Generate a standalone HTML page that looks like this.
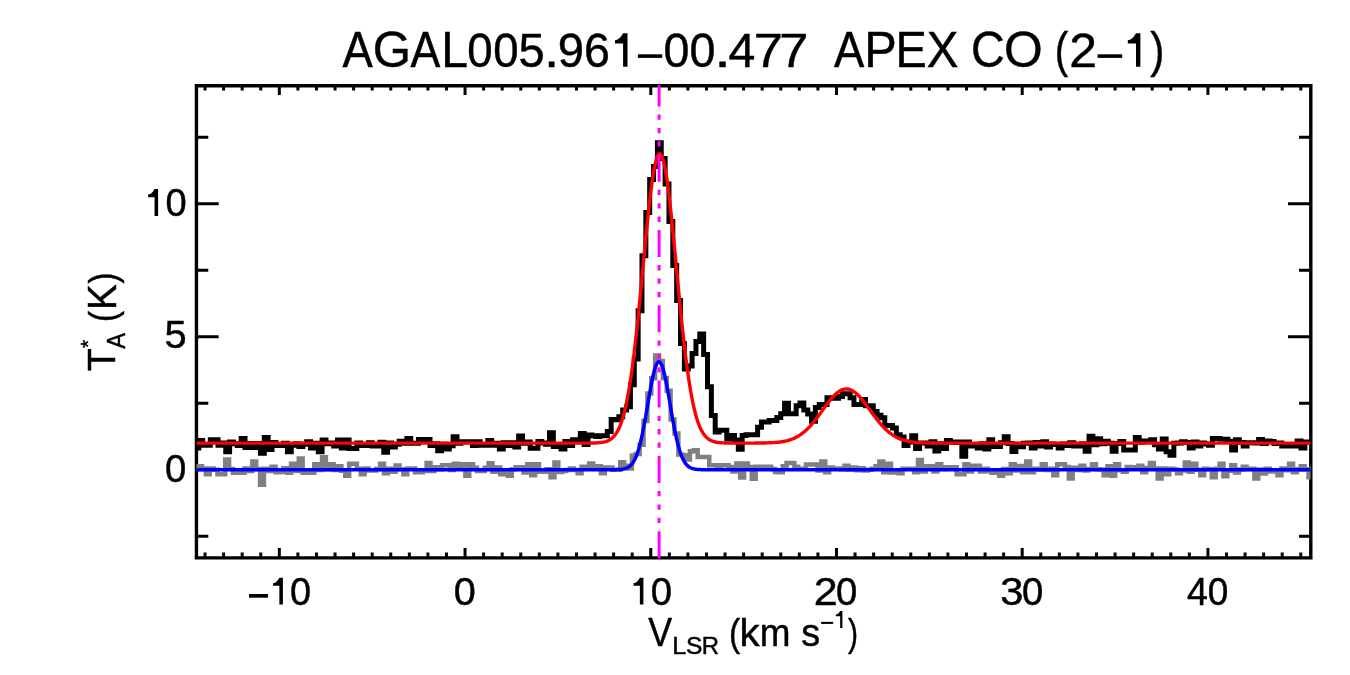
<!DOCTYPE html>
<html><head><meta charset="utf-8"><style>
html,body{margin:0;padding:0;background:#fff;width:1350px;height:675px;overflow:hidden}
svg{display:block}
text{font-family:"Liberation Sans",sans-serif;fill:#000;stroke:#000;stroke-width:0.45px}
svg{will-change:transform}
</style></head><body>
<svg width="1350" height="675" viewBox="0 0 1350 675">
<rect width="1350" height="675" fill="#fff"/>
<path d="M205.04 557.5V552.5M205.04 85.5V90.5M223.62 557.5V552.5M223.62 85.5V90.5M242.19 557.5V552.5M242.19 85.5V90.5M260.76 557.5V552.5M260.76 85.5V90.5M279.33 557.5V548.0M279.33 85.5V95.0M297.90 557.5V552.5M297.90 85.5V90.5M316.48 557.5V552.5M316.48 85.5V90.5M335.05 557.5V552.5M335.05 85.5V90.5M353.62 557.5V552.5M353.62 85.5V90.5M372.19 557.5V552.5M372.19 85.5V90.5M390.76 557.5V552.5M390.76 85.5V90.5M409.34 557.5V552.5M409.34 85.5V90.5M427.91 557.5V552.5M427.91 85.5V90.5M446.48 557.5V552.5M446.48 85.5V90.5M465.05 557.5V548.0M465.05 85.5V95.0M483.62 557.5V552.5M483.62 85.5V90.5M502.20 557.5V552.5M502.20 85.5V90.5M520.77 557.5V552.5M520.77 85.5V90.5M539.34 557.5V552.5M539.34 85.5V90.5M557.91 557.5V552.5M557.91 85.5V90.5M576.48 557.5V552.5M576.48 85.5V90.5M595.06 557.5V552.5M595.06 85.5V90.5M613.63 557.5V552.5M613.63 85.5V90.5M632.20 557.5V552.5M632.20 85.5V90.5M650.77 557.5V548.0M650.77 85.5V95.0M669.34 557.5V552.5M669.34 85.5V90.5M687.92 557.5V552.5M687.92 85.5V90.5M706.49 557.5V552.5M706.49 85.5V90.5M725.06 557.5V552.5M725.06 85.5V90.5M743.63 557.5V552.5M743.63 85.5V90.5M762.20 557.5V552.5M762.20 85.5V90.5M780.78 557.5V552.5M780.78 85.5V90.5M799.35 557.5V552.5M799.35 85.5V90.5M817.92 557.5V552.5M817.92 85.5V90.5M836.49 557.5V548.0M836.49 85.5V95.0M855.06 557.5V552.5M855.06 85.5V90.5M873.64 557.5V552.5M873.64 85.5V90.5M892.21 557.5V552.5M892.21 85.5V90.5M910.78 557.5V552.5M910.78 85.5V90.5M929.35 557.5V552.5M929.35 85.5V90.5M947.92 557.5V552.5M947.92 85.5V90.5M966.50 557.5V552.5M966.50 85.5V90.5M985.07 557.5V552.5M985.07 85.5V90.5M1003.64 557.5V552.5M1003.64 85.5V90.5M1022.21 557.5V548.0M1022.21 85.5V95.0M1040.78 557.5V552.5M1040.78 85.5V90.5M1059.36 557.5V552.5M1059.36 85.5V90.5M1077.93 557.5V552.5M1077.93 85.5V90.5M1096.50 557.5V552.5M1096.50 85.5V90.5M1115.07 557.5V552.5M1115.07 85.5V90.5M1133.64 557.5V552.5M1133.64 85.5V90.5M1152.22 557.5V552.5M1152.22 85.5V90.5M1170.79 557.5V552.5M1170.79 85.5V90.5M1189.36 557.5V552.5M1189.36 85.5V90.5M1207.93 557.5V548.0M1207.93 85.5V95.0M1226.50 557.5V552.5M1226.50 85.5V90.5M1245.08 557.5V552.5M1245.08 85.5V90.5M1263.65 557.5V552.5M1263.65 85.5V90.5M1282.22 557.5V552.5M1282.22 85.5V90.5M1300.79 557.5V552.5M1300.79 85.5V90.5M196.5 536.17H208.3M1310.5 536.17H1299.0M196.5 469.70H218.7M1310.5 469.70H1288.0M196.5 403.23H208.3M1310.5 403.23H1299.0M196.5 336.75H218.7M1310.5 336.75H1288.0M196.5 270.27H208.3M1310.5 270.27H1299.0M196.5 203.80H218.7M1310.5 203.80H1288.0M196.5 137.32H208.3M1310.5 137.32H1299.0" stroke="#000" stroke-width="3" fill="none"/>
<path d="M194.7 85.7H1312.55M194.7 557.85H1312.55M196.45 84V559.6M1310.8 84V559.6" stroke="#000" stroke-width="3.4" fill="none"/>
<defs><clipPath id="c"><rect x="196.5" y="85.5" width="1114" height="472"/></clipPath></defs>
<g clip-path="url(#c)" fill="none" stroke-linejoin="miter" stroke-linecap="butt">
<path d="M170.98 469.65 174.85 469.65 174.85 467.53 178.72 467.53 178.72 467.75 182.60 467.75 182.60 470.51 186.47 470.51 186.47 470.18 190.34 470.18 190.34 470.54 194.22 470.54 194.22 468.79 198.09 468.79 198.09 466.25 201.96 466.25 201.96 468.51 205.84 468.51 205.84 474.27 209.71 474.27 209.71 468.46 213.58 468.46 213.58 469.85 217.46 469.85 217.46 474.27 221.33 474.27 221.33 474.27 225.20 474.27 225.20 459.51 229.08 459.51 229.08 468.96 232.95 468.96 232.95 472.82 236.82 472.82 236.82 472.82 240.70 472.82 240.70 472.82 244.57 472.82 244.57 468.61 248.44 468.61 248.44 471.09 252.32 471.09 252.32 461.44 256.19 461.44 256.19 469.07 260.06 469.07 260.06 484.86 263.94 484.86 263.94 468.66 267.81 468.66 267.81 471.00 271.68 471.00 271.68 466.73 275.56 466.73 275.56 472.34 279.43 472.34 279.43 472.08 283.30 472.08 283.30 468.18 287.18 468.18 287.18 472.82 291.05 472.82 291.05 463.84 294.92 463.84 294.92 470.89 298.80 470.89 298.80 458.55 302.67 458.55 302.67 472.82 306.54 472.82 306.54 472.82 310.42 472.82 310.42 472.82 314.29 472.82 314.29 464.32 318.16 464.32 318.16 470.03 322.04 470.03 322.04 457.34 325.91 457.34 325.91 469.15 329.78 469.15 329.78 464.32 333.66 464.32 333.66 469.94 337.53 469.94 337.53 466.25 341.40 466.25 341.40 470.76 345.28 470.76 345.28 475.71 349.15 475.71 349.15 463.84 353.02 463.84 353.02 463.84 356.90 463.84 356.90 468.86 360.77 468.86 360.77 474.27 364.64 474.27 364.64 468.46 368.52 468.46 368.52 470.42 372.39 470.42 372.39 470.42 376.26 470.42 376.26 469.06 380.14 469.06 380.14 463.65 384.01 463.65 384.01 473.31 387.88 473.31 387.88 468.72 391.76 468.72 391.76 471.86 395.63 471.86 395.63 465.58 399.50 465.58 399.50 469.15 403.38 469.15 403.38 474.27 407.25 474.27 407.25 468.45 411.12 468.45 411.12 468.46 415.00 468.46 415.00 472.34 418.87 472.34 418.87 472.34 422.74 472.34 422.74 471.10 426.62 471.10 426.62 463.07 430.49 463.07 430.49 470.90 434.36 470.90 434.36 467.21 438.24 467.21 438.24 469.30 442.11 469.30 442.11 465.29 445.98 465.29 445.98 465.29 449.86 465.29 449.86 469.98 453.73 469.98 453.73 463.65 457.60 463.65 457.60 467.69 461.48 467.69 461.48 464.32 465.35 464.32 465.35 475.71 469.22 475.71 469.22 464.32 473.09 464.32 473.09 467.69 476.97 467.69 476.97 470.90 480.84 470.90 480.84 470.90 484.71 470.90 484.71 467.69 488.59 467.69 488.59 463.36 492.46 463.36 492.46 471.86 496.33 471.86 496.33 467.62 500.21 467.62 500.21 474.27 504.08 474.27 504.08 470.18 507.95 470.18 507.95 475.71 511.83 475.71 511.83 469.31 515.70 469.31 515.70 467.21 519.57 467.21 519.57 467.21 523.45 467.21 523.45 472.54 527.32 472.54 527.32 464.32 531.19 464.32 531.19 475.23 535.07 475.23 535.07 464.32 538.94 464.32 538.94 471.86 542.81 471.86 542.81 471.86 546.69 471.86 546.69 469.23 550.56 469.23 550.56 477.16 554.43 477.16 554.43 462.40 558.31 462.40 558.31 472.00 562.18 472.00 562.18 471.00 566.05 471.00 566.05 470.00 569.93 470.00 569.93 468.50 573.80 468.50 573.80 470.00 577.67 470.00 577.67 473.30 581.55 473.30 581.55 466.70 585.42 466.70 585.42 466.70 589.29 466.70 589.29 463.60 593.17 463.60 593.17 466.30 597.04 466.30 597.04 466.30 600.91 466.30 600.91 473.30 604.79 473.30 604.79 467.60 608.66 467.60 608.66 467.60 612.53 467.60 612.53 469.80 616.41 469.80 616.41 469.80 620.28 469.80 620.28 462.30 624.15 462.30 624.15 465.80 628.03 465.80 628.03 468.50 631.90 468.50 631.90 455.60 635.77 455.60 635.77 453.90 639.65 453.90 639.65 444.70 643.52 444.70 643.52 421.10 647.39 421.10 647.39 393.50 651.27 393.50 651.27 378.30 655.14 378.30 655.14 355.60 659.01 355.60 659.01 361.00 662.87 361.00 662.87 378.30 666.74 378.30 666.74 390.70 670.60 390.70 670.60 419.40 674.47 419.40 674.47 433.60 678.34 433.60 678.34 454.60 682.20 454.60 682.20 455.20 686.07 455.20 686.07 459.50 689.93 459.50 689.93 451.35 693.80 451.35 693.80 450.25 697.67 450.25 697.67 457.00 701.53 457.00 701.53 457.00 705.40 457.00 705.40 457.00 709.26 457.00 709.26 465.30 713.13 465.30 713.13 465.30 717.00 465.30 717.00 467.00 720.86 467.00 720.86 465.30 724.73 465.30 724.73 465.30 728.59 465.30 728.59 467.00 732.46 467.00 732.46 471.60 736.33 471.60 736.33 463.60 740.19 463.60 740.19 477.40 744.06 477.40 744.06 463.60 747.92 463.60 747.92 467.00 751.79 467.00 751.79 478.70 755.66 478.70 755.66 466.70 759.52 466.70 759.52 466.70 763.39 466.70 763.39 466.70 767.25 466.70 767.25 466.70 771.12 466.70 771.12 469.00 774.99 469.00 774.99 472.00 778.85 472.00 778.85 472.22 782.72 472.22 782.72 466.30 786.58 466.30 786.58 462.95 790.45 462.95 790.45 462.95 794.32 462.95 794.32 466.81 798.18 466.81 798.18 468.81 802.05 468.81 802.05 468.84 805.91 468.84 805.91 464.59 809.78 464.59 809.78 464.59 813.65 464.59 813.65 464.59 817.51 464.59 817.51 470.49 821.38 470.49 821.38 461.51 825.24 461.51 825.24 472.22 829.11 472.22 829.11 467.48 832.98 467.48 832.98 468.71 836.84 468.71 836.84 468.44 840.71 468.44 840.71 469.21 844.57 469.21 844.57 465.84 848.44 465.84 848.44 469.55 852.31 469.55 852.31 467.48 856.17 467.48 856.17 470.30 860.04 470.30 860.04 468.25 863.90 468.25 863.90 470.49 867.77 470.49 867.77 469.68 871.64 469.68 871.64 468.77 875.50 468.77 875.50 466.13 879.37 466.13 879.37 461.51 883.23 461.51 883.23 472.22 887.10 472.22 887.10 463.63 890.97 463.63 890.97 472.42 894.83 472.42 894.83 470.60 898.70 470.60 898.70 473.31 902.56 473.31 902.56 468.66 906.43 468.66 906.43 468.66 910.30 468.66 910.30 468.66 914.16 468.66 914.16 472.34 918.03 472.34 918.03 459.99 921.89 459.99 921.89 471.56 925.76 471.56 925.76 466.25 929.63 466.25 929.63 466.25 933.49 466.25 933.49 471.38 937.36 471.38 937.36 464.32 941.22 464.32 941.22 468.94 945.09 468.94 945.09 467.21 948.96 467.21 948.96 467.21 952.82 467.21 952.82 467.21 956.69 467.21 956.69 474.27 960.55 474.27 960.55 474.27 964.42 474.27 964.42 464.32 968.29 464.32 968.29 471.38 972.15 471.38 972.15 465.77 976.02 465.77 976.02 465.77 979.88 465.77 979.88 471.38 983.75 471.38 983.75 468.85 987.62 468.85 987.62 471.20 991.48 471.20 991.48 472.82 995.35 472.82 995.35 470.51 999.21 470.51 999.21 475.71 1003.08 475.71 1003.08 469.12 1006.95 469.12 1006.95 473.31 1010.81 473.31 1010.81 464.32 1014.68 464.32 1014.68 470.52 1018.54 470.52 1018.54 466.01 1022.41 466.01 1022.41 472.34 1026.28 472.34 1026.28 461.44 1030.14 461.44 1030.14 472.34 1034.01 472.34 1034.01 468.66 1037.87 468.66 1037.87 469.39 1041.74 469.39 1041.74 464.32 1045.61 464.32 1045.61 469.94 1049.47 469.94 1049.47 468.66 1053.34 468.66 1053.34 475.23 1057.20 475.23 1057.20 464.32 1061.07 464.32 1061.07 464.32 1064.94 464.32 1064.94 467.04 1068.80 467.04 1068.80 478.60 1072.67 478.60 1072.67 467.69 1076.53 467.69 1076.53 470.12 1080.40 470.12 1080.40 465.77 1084.27 465.77 1084.27 470.42 1088.13 470.42 1088.13 468.99 1092.00 468.99 1092.00 464.32 1095.86 464.32 1095.86 469.22 1099.73 469.22 1099.73 469.62 1103.60 469.62 1103.60 475.23 1107.46 475.23 1107.46 466.25 1111.33 466.25 1111.33 475.71 1115.19 475.71 1115.19 464.32 1119.06 464.32 1119.06 470.26 1122.93 470.26 1122.93 471.86 1126.79 471.86 1126.79 466.95 1130.66 466.95 1130.66 467.21 1134.52 467.21 1134.52 468.58 1138.39 468.58 1138.39 465.77 1142.26 465.77 1142.26 472.34 1146.12 472.34 1146.12 468.03 1149.99 468.03 1149.99 463.07 1153.85 463.07 1153.85 468.52 1157.72 468.52 1157.72 478.60 1161.59 478.60 1161.59 468.42 1165.45 468.42 1165.45 474.27 1169.32 474.27 1169.32 468.73 1173.18 468.73 1173.18 469.62 1177.05 469.62 1177.05 473.31 1180.92 473.31 1180.92 470.60 1184.78 470.60 1184.78 462.40 1188.65 462.40 1188.65 471.69 1192.51 471.69 1192.51 463.65 1196.38 463.65 1196.38 469.73 1200.25 469.73 1200.25 475.23 1204.11 475.23 1204.11 468.85 1207.98 468.85 1207.98 469.14 1211.84 469.14 1211.84 477.16 1215.71 477.16 1215.71 468.74 1219.58 468.74 1219.58 463.75 1223.44 463.75 1223.44 476.19 1227.31 476.19 1227.31 470.80 1231.17 470.80 1231.17 465.29 1235.04 465.29 1235.04 472.58 1238.91 472.58 1238.91 469.44 1242.77 469.44 1242.77 466.64 1246.64 466.64 1246.64 468.95 1250.50 468.95 1250.50 468.75 1254.37 468.75 1254.37 478.60 1258.24 478.60 1258.24 469.62 1262.10 469.62 1262.10 473.55 1265.97 473.55 1265.97 468.84 1269.83 468.84 1269.83 471.39 1273.70 471.39 1273.70 470.83 1277.57 470.83 1277.57 475.23 1281.43 475.23 1281.43 468.46 1285.30 468.46 1285.30 470.15 1289.16 470.15 1289.16 463.65 1293.03 463.65 1293.03 472.34 1296.90 472.34 1296.90 469.26 1300.76 469.26 1300.76 466.25 1304.63 466.25 1304.63 469.26 1308.49 469.26 1308.49 477.16 1312.36 477.16 1312.36 467.58 1316.23 467.58 1316.23 470.52 1320.09 470.52 1320.09 472.22 1323.96 472.22 1323.96 470.06 1327.82 470.06 1327.82 470.29 1331.69 470.29 1331.69 469.46 1335.56 469.46 1335.56 471.53 1339.42 471.53" stroke="#808080" stroke-width="4.5"/>
<path d="M175.65 443.11 179.50 443.11 179.50 442.71 183.36 442.71 183.36 443.47 187.21 443.47 187.21 444.29 191.07 444.29 191.07 443.71 194.92 443.71 194.92 448.02 198.77 448.02 198.77 440.50 202.63 440.50 202.63 445.13 206.48 445.13 206.48 445.13 210.34 445.13 210.34 439.83 214.19 439.83 214.19 439.83 218.04 439.83 218.04 445.13 221.90 445.13 221.90 442.97 225.75 442.97 225.75 451.87 229.61 451.87 229.61 441.94 233.46 441.94 233.46 443.78 237.31 443.78 237.31 445.61 241.17 445.61 241.17 438.57 245.02 438.57 245.02 447.54 248.88 447.54 248.88 443.39 252.73 443.39 252.73 447.54 256.58 447.54 256.58 443.42 260.44 443.42 260.44 453.31 264.29 453.31 264.29 437.61 268.15 437.61 268.15 449.46 272.00 449.46 272.00 442.43 275.85 442.43 275.85 445.61 279.71 445.61 279.71 445.61 283.56 445.61 283.56 443.17 287.42 443.17 287.42 451.87 291.27 451.87 291.27 445.14 295.12 445.14 295.12 443.87 298.98 443.87 298.98 446.57 302.83 446.57 302.83 444.19 306.69 444.19 306.69 441.70 310.54 441.70 310.54 448.02 314.39 448.02 314.39 443.15 318.25 443.15 318.25 451.87 322.10 451.87 322.10 439.92 325.96 439.92 325.96 443.69 329.81 443.69 329.81 442.91 333.66 442.91 333.66 446.09 337.52 446.09 337.52 440.02 341.37 440.02 341.37 448.02 345.23 448.02 345.23 440.02 349.08 440.02 349.08 448.50 352.93 448.50 352.93 448.50 356.79 448.50 356.79 442.95 360.64 442.95 360.64 445.61 364.50 445.61 364.50 445.61 368.35 445.61 368.35 442.71 372.20 442.71 372.20 446.09 376.06 446.09 376.06 446.09 379.91 446.09 379.91 442.34 383.77 442.34 383.77 452.35 387.62 452.35 387.62 442.91 391.47 442.91 391.47 447.06 395.33 447.06 395.33 444.35 399.18 444.35 399.18 441.20 403.04 441.20 403.04 443.20 406.89 443.20 406.89 438.57 410.74 438.57 410.74 443.20 414.60 443.20 414.60 443.20 418.45 443.20 418.45 439.54 422.31 439.54 422.31 439.54 426.16 439.54 426.16 439.54 430.01 439.54 430.01 445.61 433.87 445.61 433.87 443.87 437.72 443.87 437.72 450.67 441.58 450.67 441.58 444.17 445.43 444.17 445.43 448.98 449.28 448.98 449.28 445.76 453.14 445.76 453.14 436.65 456.99 436.65 456.99 443.24 460.85 443.24 460.85 441.75 464.70 441.75 464.70 441.75 468.55 441.75 468.55 441.75 472.41 441.75 472.41 445.42 476.26 445.42 476.26 441.75 480.12 441.75 480.12 445.13 483.97 445.13 483.97 445.13 487.82 445.13 487.82 440.50 491.68 440.50 491.68 445.13 495.53 445.13 495.53 443.27 499.39 443.27 499.39 448.98 503.24 448.98 503.24 442.71 507.09 442.71 507.09 445.61 510.95 445.61 510.95 442.71 514.80 442.71 514.80 447.06 518.66 447.06 518.66 435.97 522.51 435.97 522.51 443.14 526.36 443.14 526.36 441.94 530.22 441.94 530.22 448.31 534.07 448.31 534.07 448.31 537.93 448.31 537.93 441.60 541.78 441.60 541.78 443.00 545.63 443.00 545.63 444.20 549.49 444.20 549.49 432.70 553.34 432.70 553.34 446.40 557.20 446.40 557.20 445.00 561.05 445.00 561.05 448.90 564.90 448.90 564.90 441.60 568.76 441.60 568.76 445.50 572.61 445.50 572.61 439.80 576.47 439.80 576.47 440.00 580.32 440.00 580.32 433.60 584.17 433.60 584.17 444.50 588.03 444.50 588.03 434.90 591.88 434.90 591.88 435.80 595.74 435.80 595.74 436.50 599.59 436.50 599.59 435.80 603.44 435.80 603.44 435.80 607.30 435.80 607.30 431.40 611.15 431.40 611.15 419.40 615.01 419.40 615.01 419.80 618.86 419.80 618.86 416.70 622.71 416.70 622.71 410.10 626.57 410.10 626.57 406.80 630.42 406.80 630.42 384.70 634.28 384.70 634.28 359.10 638.13 359.10 638.13 310.80 641.98 310.80 641.98 255.80 645.84 255.80 645.84 212.50 649.69 212.50 649.69 179.40 653.55 179.40 653.55 166.50 657.40 166.50 657.40 142.70 661.25 142.70 661.25 158.50 665.11 158.50 665.11 183.90 668.96 183.90 668.96 221.60 672.82 221.60 672.82 265.50 676.67 265.50 676.67 300.50 680.52 300.50 680.52 343.40 684.38 343.40 684.38 369.10 688.23 369.10 688.23 366.00 692.09 366.00 692.09 353.50 695.94 353.50 695.94 341.40 699.79 341.40 699.79 334.10 703.65 334.10 703.65 354.50 707.50 354.50 707.50 386.70 711.36 386.70 711.36 415.60 715.21 415.60 715.21 431.90 719.06 431.90 719.06 430.30 722.92 430.30 722.92 430.30 726.77 430.30 726.77 439.10 730.63 439.10 730.63 435.60 734.48 435.60 734.48 440.00 738.33 440.00 738.33 449.30 742.19 449.30 742.19 435.60 746.04 435.60 746.04 434.70 749.90 434.70 749.90 434.70 753.75 434.70 753.75 434.70 757.60 434.70 757.60 427.20 761.46 427.20 761.46 422.00 765.31 422.00 765.31 422.00 769.17 422.00 769.17 420.50 773.02 420.50 773.02 420.50 776.87 420.50 776.87 417.60 780.73 417.60 780.73 413.80 784.58 413.80 784.58 403.20 788.44 403.20 788.44 413.70 792.29 413.70 792.29 413.70 796.14 413.70 796.14 405.80 800.00 405.80 800.00 403.00 803.85 403.00 803.85 410.00 807.71 410.00 807.71 414.00 811.56 414.00 811.56 421.30 815.41 421.30 815.41 407.60 819.27 407.60 819.27 404.50 823.12 404.50 823.12 404.50 826.98 404.50 826.98 397.80 830.83 397.80 830.83 398.20 834.68 398.20 834.68 398.20 838.54 398.20 838.54 396.40 842.39 396.40 842.39 393.70 846.25 393.70 846.25 393.70 850.10 393.70 850.10 397.70 853.95 397.70 853.95 404.40 857.81 404.40 857.81 404.40 861.66 404.40 861.66 399.60 865.52 399.60 865.52 405.80 869.37 405.80 869.37 405.80 873.22 405.80 873.22 411.60 877.08 411.60 877.08 415.20 880.93 415.20 880.93 417.80 884.79 417.80 884.79 425.40 888.64 425.40 888.64 425.40 892.49 425.40 892.49 428.10 896.35 428.10 896.35 434.67 900.20 434.67 900.20 437.00 904.06 437.00 904.06 445.61 907.91 445.61 907.91 442.05 911.76 442.05 911.76 435.69 915.62 435.69 915.62 448.50 919.47 448.50 919.47 442.91 923.33 442.91 923.33 442.91 927.18 442.91 927.18 446.09 931.03 446.09 931.03 441.76 934.89 441.76 934.89 450.91 938.74 450.91 938.74 443.63 942.60 443.63 942.60 448.50 946.45 448.50 946.45 440.50 950.30 440.50 950.30 441.95 954.16 441.95 954.16 442.44 958.01 442.44 958.01 441.94 961.87 441.94 961.87 456.20 965.72 456.20 965.72 441.94 969.57 441.94 969.57 446.09 973.43 446.09 973.43 445.35 977.28 445.35 977.28 448.02 981.14 448.02 981.14 443.87 984.99 443.87 984.99 448.98 988.84 448.98 988.84 439.83 992.70 439.83 992.70 446.57 996.55 446.57 996.55 446.57 1000.41 446.57 1000.41 442.77 1004.26 442.77 1004.26 436.65 1008.11 436.65 1008.11 443.44 1011.97 443.44 1011.97 451.39 1015.82 451.39 1015.82 444.25 1019.68 444.25 1019.68 446.81 1023.53 446.81 1023.53 443.33 1027.38 443.33 1027.38 442.91 1031.24 442.91 1031.24 448.02 1035.09 448.02 1035.09 442.44 1038.95 442.44 1038.95 446.09 1042.80 446.09 1042.80 441.75 1046.65 441.75 1046.65 447.06 1050.51 447.06 1050.51 443.98 1054.36 443.98 1054.36 444.44 1058.22 444.44 1058.22 448.02 1062.07 448.02 1062.07 444.06 1065.92 444.06 1065.92 445.61 1069.78 445.61 1069.78 442.71 1073.63 442.71 1073.63 446.09 1077.49 446.09 1077.49 446.09 1081.34 446.09 1081.34 443.87 1085.19 443.87 1085.19 451.20 1089.05 451.20 1089.05 436.17 1092.90 436.17 1092.90 444.65 1096.76 444.65 1096.76 438.86 1100.61 438.86 1100.61 443.72 1104.46 443.72 1104.46 441.13 1108.32 441.13 1108.32 443.22 1112.17 443.22 1112.17 451.20 1116.03 451.20 1116.03 443.50 1119.88 443.50 1119.88 441.57 1123.73 441.57 1123.73 449.94 1127.59 449.94 1127.59 449.94 1131.44 449.94 1131.44 449.94 1135.30 449.94 1135.30 437.61 1139.15 437.61 1139.15 442.24 1143.00 442.24 1143.00 440.98 1146.86 440.98 1146.86 441.34 1150.71 441.34 1150.71 439.83 1154.57 439.83 1154.57 444.67 1158.42 444.67 1158.42 448.98 1162.27 448.98 1162.27 439.06 1166.13 439.06 1166.13 451.87 1169.98 451.87 1169.98 455.24 1173.84 455.24 1173.84 443.18 1177.69 443.18 1177.69 443.06 1181.54 443.06 1181.54 441.75 1185.40 441.75 1185.40 442.38 1189.25 442.38 1189.25 448.02 1193.11 448.02 1193.11 441.94 1196.96 441.94 1196.96 446.09 1200.81 446.09 1200.81 442.91 1204.67 442.91 1204.67 444.02 1208.52 444.02 1208.52 445.13 1212.38 445.13 1212.38 438.57 1216.23 438.57 1216.23 438.57 1220.08 438.57 1220.08 439.25 1223.94 439.25 1223.94 439.25 1227.79 439.25 1227.79 441.17 1231.65 441.17 1231.65 450.09 1235.50 450.09 1235.50 439.68 1239.35 439.68 1239.35 442.61 1243.21 442.61 1243.21 446.02 1247.06 446.02 1247.06 442.78 1250.92 442.78 1250.92 442.71 1254.77 442.71 1254.77 443.00 1258.62 443.00 1258.62 439.39 1262.48 439.39 1262.48 443.47 1266.33 443.47 1266.33 440.98 1270.19 440.98 1270.19 441.53 1274.04 441.53 1274.04 443.39 1277.89 443.39 1277.89 443.12 1281.75 443.12 1281.75 446.09 1285.60 446.09 1285.60 446.09 1289.46 446.09 1289.46 446.09 1293.31 446.09 1293.31 446.09 1297.16 446.09 1297.16 441.02 1301.02 441.02 1301.02 448.02 1304.87 448.02 1304.87 441.94 1308.73 441.94 1308.73 442.22 1312.58 442.22 1312.58 442.96 1316.43 442.96 1316.43 442.82 1320.29 442.82 1320.29 443.45 1324.14 443.45 1324.14 443.38 1328.00 443.38 1328.00 443.04 1331.85 443.04 1331.85 441.10 1335.70 441.10 1335.70 442.37 1339.56 442.37" stroke="#000" stroke-width="5"/>
<path d="M196.5 443.11 197.5 443.11 198.5 443.11 199.5 443.11 200.5 443.11 201.5 443.11 202.5 443.11 203.5 443.11 204.5 443.11 205.5 443.11 206.5 443.11 207.5 443.11 208.5 443.11 209.5 443.11 210.5 443.11 211.5 443.11 212.5 443.11 213.5 443.11 214.5 443.11 215.5 443.11 216.5 443.11 217.5 443.11 218.5 443.11 219.5 443.11 220.5 443.11 221.5 443.11 222.5 443.11 223.5 443.11 224.5 443.11 225.5 443.11 226.5 443.11 227.5 443.11 228.5 443.11 229.5 443.11 230.5 443.11 231.5 443.11 232.5 443.11 233.5 443.11 234.5 443.11 235.5 443.11 236.5 443.11 237.5 443.11 238.5 443.11 239.5 443.11 240.5 443.11 241.5 443.11 242.5 443.11 243.5 443.11 244.5 443.11 245.5 443.11 246.5 443.11 247.5 443.11 248.5 443.11 249.5 443.11 250.5 443.11 251.5 443.11 252.5 443.11 253.5 443.11 254.5 443.11 255.5 443.11 256.5 443.11 257.5 443.11 258.5 443.11 259.5 443.11 260.5 443.11 261.5 443.11 262.5 443.11 263.5 443.11 264.5 443.11 265.5 443.11 266.5 443.11 267.5 443.11 268.5 443.11 269.5 443.11 270.5 443.11 271.5 443.11 272.5 443.11 273.5 443.11 274.5 443.11 275.5 443.11 276.5 443.11 277.5 443.11 278.5 443.11 279.5 443.11 280.5 443.11 281.5 443.11 282.5 443.11 283.5 443.11 284.5 443.11 285.5 443.11 286.5 443.11 287.5 443.11 288.5 443.11 289.5 443.11 290.5 443.11 291.5 443.11 292.5 443.11 293.5 443.11 294.5 443.11 295.5 443.11 296.5 443.11 297.5 443.11 298.5 443.11 299.5 443.11 300.5 443.11 301.5 443.11 302.5 443.11 303.5 443.11 304.5 443.11 305.5 443.11 306.5 443.11 307.5 443.11 308.5 443.11 309.5 443.11 310.5 443.11 311.5 443.11 312.5 443.11 313.5 443.11 314.5 443.11 315.5 443.11 316.5 443.11 317.5 443.11 318.5 443.11 319.5 443.11 320.5 443.11 321.5 443.11 322.5 443.11 323.5 443.11 324.5 443.11 325.5 443.11 326.5 443.11 327.5 443.11 328.5 443.11 329.5 443.11 330.5 443.11 331.5 443.11 332.5 443.11 333.5 443.11 334.5 443.11 335.5 443.11 336.5 443.11 337.5 443.11 338.5 443.11 339.5 443.11 340.5 443.11 341.5 443.11 342.5 443.11 343.5 443.11 344.5 443.11 345.5 443.11 346.5 443.11 347.5 443.11 348.5 443.11 349.5 443.11 350.5 443.11 351.5 443.11 352.5 443.11 353.5 443.11 354.5 443.11 355.5 443.11 356.5 443.11 357.5 443.11 358.5 443.11 359.5 443.11 360.5 443.11 361.5 443.11 362.5 443.11 363.5 443.11 364.5 443.11 365.5 443.11 366.5 443.11 367.5 443.11 368.5 443.11 369.5 443.11 370.5 443.11 371.5 443.11 372.5 443.11 373.5 443.11 374.5 443.11 375.5 443.11 376.5 443.11 377.5 443.11 378.5 443.11 379.5 443.11 380.5 443.11 381.5 443.11 382.5 443.11 383.5 443.11 384.5 443.11 385.5 443.11 386.5 443.11 387.5 443.11 388.5 443.11 389.5 443.11 390.5 443.11 391.5 443.11 392.5 443.11 393.5 443.11 394.5 443.11 395.5 443.11 396.5 443.11 397.5 443.11 398.5 443.11 399.5 443.11 400.5 443.11 401.5 443.11 402.5 443.11 403.5 443.11 404.5 443.11 405.5 443.11 406.5 443.11 407.5 443.11 408.5 443.11 409.5 443.11 410.5 443.11 411.5 443.11 412.5 443.11 413.5 443.11 414.5 443.11 415.5 443.11 416.5 443.11 417.5 443.11 418.5 443.11 419.5 443.11 420.5 443.11 421.5 443.11 422.5 443.11 423.5 443.11 424.5 443.11 425.5 443.11 426.5 443.11 427.5 443.11 428.5 443.11 429.5 443.11 430.5 443.11 431.5 443.11 432.5 443.11 433.5 443.11 434.5 443.11 435.5 443.11 436.5 443.11 437.5 443.11 438.5 443.11 439.5 443.11 440.5 443.11 441.5 443.11 442.5 443.11 443.5 443.11 444.5 443.11 445.5 443.11 446.5 443.11 447.5 443.11 448.5 443.11 449.5 443.11 450.5 443.11 451.5 443.11 452.5 443.11 453.5 443.11 454.5 443.11 455.5 443.11 456.5 443.11 457.5 443.11 458.5 443.11 459.5 443.11 460.5 443.11 461.5 443.11 462.5 443.11 463.5 443.11 464.5 443.11 465.5 443.11 466.5 443.11 467.5 443.11 468.5 443.11 469.5 443.11 470.5 443.11 471.5 443.11 472.5 443.11 473.5 443.11 474.5 443.11 475.5 443.11 476.5 443.11 477.5 443.11 478.5 443.11 479.5 443.11 480.5 443.11 481.5 443.11 482.5 443.11 483.5 443.11 484.5 443.11 485.5 443.11 486.5 443.11 487.5 443.11 488.5 443.11 489.5 443.11 490.5 443.11 491.5 443.11 492.5 443.11 493.5 443.11 494.5 443.11 495.5 443.11 496.5 443.11 497.5 443.11 498.5 443.11 499.5 443.11 500.5 443.11 501.5 443.11 502.5 443.11 503.5 443.11 504.5 443.11 505.5 443.11 506.5 443.11 507.5 443.11 508.5 443.11 509.5 443.11 510.5 443.11 511.5 443.11 512.5 443.11 513.5 443.11 514.5 443.11 515.5 443.11 516.5 443.11 517.5 443.11 518.5 443.11 519.5 443.11 520.5 443.11 521.5 443.11 522.5 443.11 523.5 443.11 524.5 443.11 525.5 443.11 526.5 443.11 527.5 443.11 528.5 443.11 529.5 443.11 530.5 443.11 531.5 443.11 532.5 443.11 533.5 443.11 534.5 443.11 535.5 443.11 536.5 443.11 537.5 443.11 538.5 443.11 539.5 443.11 540.5 443.11 541.5 443.11 542.5 443.11 543.5 443.11 544.5 443.11 545.5 443.11 546.5 443.11 547.5 443.11 548.5 443.11 549.5 443.11 550.5 443.11 551.5 443.11 552.5 443.11 553.5 443.11 554.5 443.11 555.5 443.11 556.5 443.11 557.5 443.11 558.5 443.11 559.5 443.11 560.5 443.11 561.5 443.11 562.5 443.11 563.5 443.11 564.5 443.11 565.5 443.11 566.5 443.11 567.5 443.11 568.5 443.11 569.5 443.11 570.5 443.11 571.5 443.11 572.5 443.11 573.5 443.11 574.5 443.11 575.5 443.11 576.5 443.11 577.5 443.11 578.5 443.11 579.5 443.11 580.5 443.11 581.5 443.10 582.5 443.10 583.5 443.10 584.5 443.10 585.5 443.09 586.5 443.09 587.5 443.08 588.5 443.08 589.5 443.07 590.5 443.05 591.5 443.04 592.5 443.02 593.5 443.00 594.5 442.97 595.5 442.93 596.5 442.88 597.5 442.82 598.5 442.75 599.5 442.67 600.5 442.56 601.5 442.43 602.5 442.28 603.5 442.09 604.5 441.87 605.5 441.60 606.5 441.28 607.5 440.90 608.5 440.45 609.5 439.92 610.5 439.30 611.5 438.57 612.5 437.72 613.5 436.74 614.5 435.61 615.5 434.31 616.5 432.83 617.5 431.13 618.5 429.20 619.5 427.02 620.5 424.56 621.5 421.81 622.5 418.73 623.5 415.31 624.5 411.52 625.5 407.35 626.5 402.77 627.5 397.76 628.5 392.31 629.5 386.41 630.5 380.06 631.5 373.24 632.5 365.96 633.5 358.23 634.5 350.06 635.5 341.46 636.5 332.47 637.5 323.11 638.5 313.42 639.5 303.46 640.5 293.26 641.5 282.90 642.5 272.43 643.5 261.92 644.5 251.46 645.5 241.11 646.5 230.97 647.5 221.12 648.5 211.64 649.5 202.61 650.5 194.13 651.5 186.27 652.5 179.10 653.5 172.71 654.5 167.15 655.5 162.48 656.5 158.76 657.5 156.01 658.5 154.27 659.5 153.56 660.5 153.89 661.5 155.25 662.5 157.62 663.5 160.99 664.5 165.31 665.5 170.54 666.5 176.64 667.5 183.52 668.5 191.13 669.5 199.39 670.5 208.23 671.5 217.55 672.5 227.28 673.5 237.32 674.5 247.60 675.5 258.03 676.5 268.53 677.5 279.02 678.5 289.43 679.5 299.69 680.5 309.75 681.5 319.55 682.5 329.03 683.5 338.17 684.5 346.91 685.5 355.25 686.5 363.14 687.5 370.59 688.5 377.58 689.5 384.11 690.5 390.17 691.5 395.79 692.5 400.96 693.5 405.69 694.5 410.02 695.5 413.95 696.5 417.50 697.5 420.70 698.5 423.58 699.5 426.14 700.5 428.42 701.5 430.44 702.5 432.22 703.5 433.78 704.5 435.15 705.5 436.34 706.5 437.38 707.5 438.27 708.5 439.04 709.5 439.70 710.5 440.26 711.5 440.74 712.5 441.14 713.5 441.48 714.5 441.77 715.5 442.01 716.5 442.21 717.5 442.38 718.5 442.52 719.5 442.63 720.5 442.72 721.5 442.80 722.5 442.86 723.5 442.91 724.5 442.95 725.5 442.99 726.5 443.01 727.5 443.03 728.5 443.05 729.5 443.06 730.5 443.07 731.5 443.08 732.5 443.09 733.5 443.09 734.5 443.10 735.5 443.10 736.5 443.10 737.5 443.10 738.5 443.10 739.5 443.10 740.5 443.10 741.5 443.10 742.5 443.10 743.5 443.10 744.5 443.10 745.5 443.10 746.5 443.10 747.5 443.10 748.5 443.10 749.5 443.10 750.5 443.09 751.5 443.09 752.5 443.09 753.5 443.08 754.5 443.08 755.5 443.07 756.5 443.07 757.5 443.06 758.5 443.05 759.5 443.04 760.5 443.03 761.5 443.02 762.5 443.00 763.5 442.98 764.5 442.97 765.5 442.94 766.5 442.92 767.5 442.89 768.5 442.86 769.5 442.82 770.5 442.78 771.5 442.73 772.5 442.67 773.5 442.61 774.5 442.55 775.5 442.47 776.5 442.39 777.5 442.29 778.5 442.19 779.5 442.07 780.5 441.94 781.5 441.80 782.5 441.64 783.5 441.46 784.5 441.27 785.5 441.06 786.5 440.83 787.5 440.58 788.5 440.30 789.5 440.00 790.5 439.68 791.5 439.32 792.5 438.94 793.5 438.53 794.5 438.08 795.5 437.61 796.5 437.09 797.5 436.54 798.5 435.96 799.5 435.33 800.5 434.67 801.5 433.96 802.5 433.22 803.5 432.43 804.5 431.60 805.5 430.72 806.5 429.81 807.5 428.85 808.5 427.85 809.5 426.80 810.5 425.72 811.5 424.60 812.5 423.44 813.5 422.24 814.5 421.01 815.5 419.75 816.5 418.47 817.5 417.15 818.5 415.82 819.5 414.47 820.5 413.10 821.5 411.72 822.5 410.34 823.5 408.96 824.5 407.59 825.5 406.22 826.5 404.87 827.5 403.54 828.5 402.23 829.5 400.96 830.5 399.72 831.5 398.53 832.5 397.38 833.5 396.29 834.5 395.26 835.5 394.29 836.5 393.39 837.5 392.56 838.5 391.81 839.5 391.14 840.5 390.55 841.5 390.05 842.5 389.65 843.5 389.33 844.5 389.11 845.5 388.98 846.5 388.95 847.5 389.01 848.5 389.17 849.5 389.42 850.5 389.77 851.5 390.21 852.5 390.74 853.5 391.35 854.5 392.05 855.5 392.83 856.5 393.68 857.5 394.60 858.5 395.59 859.5 396.65 860.5 397.76 861.5 398.92 862.5 400.13 863.5 401.38 864.5 402.66 865.5 403.98 866.5 405.31 867.5 406.67 868.5 408.04 869.5 409.42 870.5 410.80 871.5 412.18 872.5 413.55 873.5 414.92 874.5 416.26 875.5 417.59 876.5 418.90 877.5 420.18 878.5 421.43 879.5 422.64 880.5 423.83 881.5 424.97 882.5 426.08 883.5 427.15 884.5 428.18 885.5 429.17 886.5 430.11 887.5 431.02 888.5 431.88 889.5 432.69 890.5 433.47 891.5 434.20 892.5 434.89 893.5 435.54 894.5 436.16 895.5 436.73 896.5 437.27 897.5 437.77 898.5 438.23 899.5 438.67 900.5 439.07 901.5 439.44 902.5 439.79 903.5 440.10 904.5 440.40 905.5 440.66 906.5 440.91 907.5 441.13 908.5 441.34 909.5 441.52 910.5 441.69 911.5 441.85 912.5 441.98 913.5 442.11 914.5 442.22 915.5 442.32 916.5 442.42 917.5 442.50 918.5 442.57 919.5 442.63 920.5 442.69 921.5 442.74 922.5 442.79 923.5 442.83 924.5 442.87 925.5 442.90 926.5 442.93 927.5 442.95 928.5 442.97 929.5 442.99 930.5 443.01 931.5 443.02 932.5 443.03 933.5 443.04 934.5 443.05 935.5 443.06 936.5 443.07 937.5 443.08 938.5 443.08 939.5 443.08 940.5 443.09 941.5 443.09 942.5 443.09 943.5 443.10 944.5 443.10 945.5 443.10 946.5 443.10 947.5 443.10 948.5 443.10 949.5 443.11 950.5 443.11 951.5 443.11 952.5 443.11 953.5 443.11 954.5 443.11 955.5 443.11 956.5 443.11 957.5 443.11 958.5 443.11 959.5 443.11 960.5 443.11 961.5 443.11 962.5 443.11 963.5 443.11 964.5 443.11 965.5 443.11 966.5 443.11 967.5 443.11 968.5 443.11 969.5 443.11 970.5 443.11 971.5 443.11 972.5 443.11 973.5 443.11 974.5 443.11 975.5 443.11 976.5 443.11 977.5 443.11 978.5 443.11 979.5 443.11 980.5 443.11 981.5 443.11 982.5 443.11 983.5 443.11 984.5 443.11 985.5 443.11 986.5 443.11 987.5 443.11 988.5 443.11 989.5 443.11 990.5 443.11 991.5 443.11 992.5 443.11 993.5 443.11 994.5 443.11 995.5 443.11 996.5 443.11 997.5 443.11 998.5 443.11 999.5 443.11 1000.5 443.11 1001.5 443.11 1002.5 443.11 1003.5 443.11 1004.5 443.11 1005.5 443.11 1006.5 443.11 1007.5 443.11 1008.5 443.11 1009.5 443.11 1010.5 443.11 1011.5 443.11 1012.5 443.11 1013.5 443.11 1014.5 443.11 1015.5 443.11 1016.5 443.11 1017.5 443.11 1018.5 443.11 1019.5 443.11 1020.5 443.11 1021.5 443.11 1022.5 443.11 1023.5 443.11 1024.5 443.11 1025.5 443.11 1026.5 443.11 1027.5 443.11 1028.5 443.11 1029.5 443.11 1030.5 443.11 1031.5 443.11 1032.5 443.11 1033.5 443.11 1034.5 443.11 1035.5 443.11 1036.5 443.11 1037.5 443.11 1038.5 443.11 1039.5 443.11 1040.5 443.11 1041.5 443.11 1042.5 443.11 1043.5 443.11 1044.5 443.11 1045.5 443.11 1046.5 443.11 1047.5 443.11 1048.5 443.11 1049.5 443.11 1050.5 443.11 1051.5 443.11 1052.5 443.11 1053.5 443.11 1054.5 443.11 1055.5 443.11 1056.5 443.11 1057.5 443.11 1058.5 443.11 1059.5 443.11 1060.5 443.11 1061.5 443.11 1062.5 443.11 1063.5 443.11 1064.5 443.11 1065.5 443.11 1066.5 443.11 1067.5 443.11 1068.5 443.11 1069.5 443.11 1070.5 443.11 1071.5 443.11 1072.5 443.11 1073.5 443.11 1074.5 443.11 1075.5 443.11 1076.5 443.11 1077.5 443.11 1078.5 443.11 1079.5 443.11 1080.5 443.11 1081.5 443.11 1082.5 443.11 1083.5 443.11 1084.5 443.11 1085.5 443.11 1086.5 443.11 1087.5 443.11 1088.5 443.11 1089.5 443.11 1090.5 443.11 1091.5 443.11 1092.5 443.11 1093.5 443.11 1094.5 443.11 1095.5 443.11 1096.5 443.11 1097.5 443.11 1098.5 443.11 1099.5 443.11 1100.5 443.11 1101.5 443.11 1102.5 443.11 1103.5 443.11 1104.5 443.11 1105.5 443.11 1106.5 443.11 1107.5 443.11 1108.5 443.11 1109.5 443.11 1110.5 443.11 1111.5 443.11 1112.5 443.11 1113.5 443.11 1114.5 443.11 1115.5 443.11 1116.5 443.11 1117.5 443.11 1118.5 443.11 1119.5 443.11 1120.5 443.11 1121.5 443.11 1122.5 443.11 1123.5 443.11 1124.5 443.11 1125.5 443.11 1126.5 443.11 1127.5 443.11 1128.5 443.11 1129.5 443.11 1130.5 443.11 1131.5 443.11 1132.5 443.11 1133.5 443.11 1134.5 443.11 1135.5 443.11 1136.5 443.11 1137.5 443.11 1138.5 443.11 1139.5 443.11 1140.5 443.11 1141.5 443.11 1142.5 443.11 1143.5 443.11 1144.5 443.11 1145.5 443.11 1146.5 443.11 1147.5 443.11 1148.5 443.11 1149.5 443.11 1150.5 443.11 1151.5 443.11 1152.5 443.11 1153.5 443.11 1154.5 443.11 1155.5 443.11 1156.5 443.11 1157.5 443.11 1158.5 443.11 1159.5 443.11 1160.5 443.11 1161.5 443.11 1162.5 443.11 1163.5 443.11 1164.5 443.11 1165.5 443.11 1166.5 443.11 1167.5 443.11 1168.5 443.11 1169.5 443.11 1170.5 443.11 1171.5 443.11 1172.5 443.11 1173.5 443.11 1174.5 443.11 1175.5 443.11 1176.5 443.11 1177.5 443.11 1178.5 443.11 1179.5 443.11 1180.5 443.11 1181.5 443.11 1182.5 443.11 1183.5 443.11 1184.5 443.11 1185.5 443.11 1186.5 443.11 1187.5 443.11 1188.5 443.11 1189.5 443.11 1190.5 443.11 1191.5 443.11 1192.5 443.11 1193.5 443.11 1194.5 443.11 1195.5 443.11 1196.5 443.11 1197.5 443.11 1198.5 443.11 1199.5 443.11 1200.5 443.11 1201.5 443.11 1202.5 443.11 1203.5 443.11 1204.5 443.11 1205.5 443.11 1206.5 443.11 1207.5 443.11 1208.5 443.11 1209.5 443.11 1210.5 443.11 1211.5 443.11 1212.5 443.11 1213.5 443.11 1214.5 443.11 1215.5 443.11 1216.5 443.11 1217.5 443.11 1218.5 443.11 1219.5 443.11 1220.5 443.11 1221.5 443.11 1222.5 443.11 1223.5 443.11 1224.5 443.11 1225.5 443.11 1226.5 443.11 1227.5 443.11 1228.5 443.11 1229.5 443.11 1230.5 443.11 1231.5 443.11 1232.5 443.11 1233.5 443.11 1234.5 443.11 1235.5 443.11 1236.5 443.11 1237.5 443.11 1238.5 443.11 1239.5 443.11 1240.5 443.11 1241.5 443.11 1242.5 443.11 1243.5 443.11 1244.5 443.11 1245.5 443.11 1246.5 443.11 1247.5 443.11 1248.5 443.11 1249.5 443.11 1250.5 443.11 1251.5 443.11 1252.5 443.11 1253.5 443.11 1254.5 443.11 1255.5 443.11 1256.5 443.11 1257.5 443.11 1258.5 443.11 1259.5 443.11 1260.5 443.11 1261.5 443.11 1262.5 443.11 1263.5 443.11 1264.5 443.11 1265.5 443.11 1266.5 443.11 1267.5 443.11 1268.5 443.11 1269.5 443.11 1270.5 443.11 1271.5 443.11 1272.5 443.11 1273.5 443.11 1274.5 443.11 1275.5 443.11 1276.5 443.11 1277.5 443.11 1278.5 443.11 1279.5 443.11 1280.5 443.11 1281.5 443.11 1282.5 443.11 1283.5 443.11 1284.5 443.11 1285.5 443.11 1286.5 443.11 1287.5 443.11 1288.5 443.11 1289.5 443.11 1290.5 443.11 1291.5 443.11 1292.5 443.11 1293.5 443.11 1294.5 443.11 1295.5 443.11 1296.5 443.11 1297.5 443.11 1298.5 443.11 1299.5 443.11 1300.5 443.11 1301.5 443.11 1302.5 443.11 1303.5 443.11 1304.5 443.11 1305.5 443.11 1306.5 443.11 1307.5 443.11 1308.5 443.11 1309.5 443.11 1310.5 443.11" stroke="#f00" stroke-width="3.4"/>
<path d="M196.5 469.70 197.5 469.70 198.5 469.70 199.5 469.70 200.5 469.70 201.5 469.70 202.5 469.70 203.5 469.70 204.5 469.70 205.5 469.70 206.5 469.70 207.5 469.70 208.5 469.70 209.5 469.70 210.5 469.70 211.5 469.70 212.5 469.70 213.5 469.70 214.5 469.70 215.5 469.70 216.5 469.70 217.5 469.70 218.5 469.70 219.5 469.70 220.5 469.70 221.5 469.70 222.5 469.70 223.5 469.70 224.5 469.70 225.5 469.70 226.5 469.70 227.5 469.70 228.5 469.70 229.5 469.70 230.5 469.70 231.5 469.70 232.5 469.70 233.5 469.70 234.5 469.70 235.5 469.70 236.5 469.70 237.5 469.70 238.5 469.70 239.5 469.70 240.5 469.70 241.5 469.70 242.5 469.70 243.5 469.70 244.5 469.70 245.5 469.70 246.5 469.70 247.5 469.70 248.5 469.70 249.5 469.70 250.5 469.70 251.5 469.70 252.5 469.70 253.5 469.70 254.5 469.70 255.5 469.70 256.5 469.70 257.5 469.70 258.5 469.70 259.5 469.70 260.5 469.70 261.5 469.70 262.5 469.70 263.5 469.70 264.5 469.70 265.5 469.70 266.5 469.70 267.5 469.70 268.5 469.70 269.5 469.70 270.5 469.70 271.5 469.70 272.5 469.70 273.5 469.70 274.5 469.70 275.5 469.70 276.5 469.70 277.5 469.70 278.5 469.70 279.5 469.70 280.5 469.70 281.5 469.70 282.5 469.70 283.5 469.70 284.5 469.70 285.5 469.70 286.5 469.70 287.5 469.70 288.5 469.70 289.5 469.70 290.5 469.70 291.5 469.70 292.5 469.70 293.5 469.70 294.5 469.70 295.5 469.70 296.5 469.70 297.5 469.70 298.5 469.70 299.5 469.70 300.5 469.70 301.5 469.70 302.5 469.70 303.5 469.70 304.5 469.70 305.5 469.70 306.5 469.70 307.5 469.70 308.5 469.70 309.5 469.70 310.5 469.70 311.5 469.70 312.5 469.70 313.5 469.70 314.5 469.70 315.5 469.70 316.5 469.70 317.5 469.70 318.5 469.70 319.5 469.70 320.5 469.70 321.5 469.70 322.5 469.70 323.5 469.70 324.5 469.70 325.5 469.70 326.5 469.70 327.5 469.70 328.5 469.70 329.5 469.70 330.5 469.70 331.5 469.70 332.5 469.70 333.5 469.70 334.5 469.70 335.5 469.70 336.5 469.70 337.5 469.70 338.5 469.70 339.5 469.70 340.5 469.70 341.5 469.70 342.5 469.70 343.5 469.70 344.5 469.70 345.5 469.70 346.5 469.70 347.5 469.70 348.5 469.70 349.5 469.70 350.5 469.70 351.5 469.70 352.5 469.70 353.5 469.70 354.5 469.70 355.5 469.70 356.5 469.70 357.5 469.70 358.5 469.70 359.5 469.70 360.5 469.70 361.5 469.70 362.5 469.70 363.5 469.70 364.5 469.70 365.5 469.70 366.5 469.70 367.5 469.70 368.5 469.70 369.5 469.70 370.5 469.70 371.5 469.70 372.5 469.70 373.5 469.70 374.5 469.70 375.5 469.70 376.5 469.70 377.5 469.70 378.5 469.70 379.5 469.70 380.5 469.70 381.5 469.70 382.5 469.70 383.5 469.70 384.5 469.70 385.5 469.70 386.5 469.70 387.5 469.70 388.5 469.70 389.5 469.70 390.5 469.70 391.5 469.70 392.5 469.70 393.5 469.70 394.5 469.70 395.5 469.70 396.5 469.70 397.5 469.70 398.5 469.70 399.5 469.70 400.5 469.70 401.5 469.70 402.5 469.70 403.5 469.70 404.5 469.70 405.5 469.70 406.5 469.70 407.5 469.70 408.5 469.70 409.5 469.70 410.5 469.70 411.5 469.70 412.5 469.70 413.5 469.70 414.5 469.70 415.5 469.70 416.5 469.70 417.5 469.70 418.5 469.70 419.5 469.70 420.5 469.70 421.5 469.70 422.5 469.70 423.5 469.70 424.5 469.70 425.5 469.70 426.5 469.70 427.5 469.70 428.5 469.70 429.5 469.70 430.5 469.70 431.5 469.70 432.5 469.70 433.5 469.70 434.5 469.70 435.5 469.70 436.5 469.70 437.5 469.70 438.5 469.70 439.5 469.70 440.5 469.70 441.5 469.70 442.5 469.70 443.5 469.70 444.5 469.70 445.5 469.70 446.5 469.70 447.5 469.70 448.5 469.70 449.5 469.70 450.5 469.70 451.5 469.70 452.5 469.70 453.5 469.70 454.5 469.70 455.5 469.70 456.5 469.70 457.5 469.70 458.5 469.70 459.5 469.70 460.5 469.70 461.5 469.70 462.5 469.70 463.5 469.70 464.5 469.70 465.5 469.70 466.5 469.70 467.5 469.70 468.5 469.70 469.5 469.70 470.5 469.70 471.5 469.70 472.5 469.70 473.5 469.70 474.5 469.70 475.5 469.70 476.5 469.70 477.5 469.70 478.5 469.70 479.5 469.70 480.5 469.70 481.5 469.70 482.5 469.70 483.5 469.70 484.5 469.70 485.5 469.70 486.5 469.70 487.5 469.70 488.5 469.70 489.5 469.70 490.5 469.70 491.5 469.70 492.5 469.70 493.5 469.70 494.5 469.70 495.5 469.70 496.5 469.70 497.5 469.70 498.5 469.70 499.5 469.70 500.5 469.70 501.5 469.70 502.5 469.70 503.5 469.70 504.5 469.70 505.5 469.70 506.5 469.70 507.5 469.70 508.5 469.70 509.5 469.70 510.5 469.70 511.5 469.70 512.5 469.70 513.5 469.70 514.5 469.70 515.5 469.70 516.5 469.70 517.5 469.70 518.5 469.70 519.5 469.70 520.5 469.70 521.5 469.70 522.5 469.70 523.5 469.70 524.5 469.70 525.5 469.70 526.5 469.70 527.5 469.70 528.5 469.70 529.5 469.70 530.5 469.70 531.5 469.70 532.5 469.70 533.5 469.70 534.5 469.70 535.5 469.70 536.5 469.70 537.5 469.70 538.5 469.70 539.5 469.70 540.5 469.70 541.5 469.70 542.5 469.70 543.5 469.70 544.5 469.70 545.5 469.70 546.5 469.70 547.5 469.70 548.5 469.70 549.5 469.70 550.5 469.70 551.5 469.70 552.5 469.70 553.5 469.70 554.5 469.70 555.5 469.70 556.5 469.70 557.5 469.70 558.5 469.70 559.5 469.70 560.5 469.70 561.5 469.70 562.5 469.70 563.5 469.70 564.5 469.70 565.5 469.70 566.5 469.70 567.5 469.70 568.5 469.70 569.5 469.70 570.5 469.70 571.5 469.70 572.5 469.70 573.5 469.70 574.5 469.70 575.5 469.70 576.5 469.70 577.5 469.70 578.5 469.70 579.5 469.70 580.5 469.70 581.5 469.70 582.5 469.70 583.5 469.70 584.5 469.70 585.5 469.70 586.5 469.70 587.5 469.70 588.5 469.70 589.5 469.70 590.5 469.70 591.5 469.70 592.5 469.70 593.5 469.70 594.5 469.70 595.5 469.70 596.5 469.70 597.5 469.70 598.5 469.70 599.5 469.70 600.5 469.70 601.5 469.70 602.5 469.70 603.5 469.70 604.5 469.70 605.5 469.70 606.5 469.70 607.5 469.70 608.5 469.70 609.5 469.69 610.5 469.69 611.5 469.69 612.5 469.68 613.5 469.67 614.5 469.66 615.5 469.65 616.5 469.62 617.5 469.59 618.5 469.55 619.5 469.49 620.5 469.42 621.5 469.32 622.5 469.19 623.5 469.01 624.5 468.79 625.5 468.50 626.5 468.14 627.5 467.68 628.5 467.11 629.5 466.41 630.5 465.55 631.5 464.50 632.5 463.24 633.5 461.73 634.5 459.96 635.5 457.89 636.5 455.50 637.5 452.75 638.5 449.64 639.5 446.14 640.5 442.26 641.5 437.99 642.5 433.36 643.5 428.38 644.5 423.09 645.5 417.55 646.5 411.82 647.5 405.98 648.5 400.11 649.5 394.31 650.5 388.68 651.5 383.33 652.5 378.36 653.5 373.88 654.5 369.99 655.5 366.78 656.5 364.31 657.5 362.65 658.5 361.83 659.5 361.88 660.5 362.79 661.5 364.55 662.5 367.11 663.5 370.41 664.5 374.37 665.5 378.91 666.5 383.92 667.5 389.31 668.5 394.97 669.5 400.78 670.5 406.65 671.5 412.49 672.5 418.20 673.5 423.71 674.5 428.96 675.5 433.90 676.5 438.50 677.5 442.72 678.5 446.56 679.5 450.01 680.5 453.08 681.5 455.79 682.5 458.14 683.5 460.18 684.5 461.92 685.5 463.39 686.5 464.63 687.5 465.65 688.5 466.50 689.5 467.19 690.5 467.74 691.5 468.19 692.5 468.54 693.5 468.82 694.5 469.04 695.5 469.20 696.5 469.33 697.5 469.43 698.5 469.50 699.5 469.56 700.5 469.60 701.5 469.63 702.5 469.65 703.5 469.66 704.5 469.67 705.5 469.68 706.5 469.69 707.5 469.69 708.5 469.69 709.5 469.70 710.5 469.70 711.5 469.70 712.5 469.70 713.5 469.70 714.5 469.70 715.5 469.70 716.5 469.70 717.5 469.70 718.5 469.70 719.5 469.70 720.5 469.70 721.5 469.70 722.5 469.70 723.5 469.70 724.5 469.70 725.5 469.70 726.5 469.70 727.5 469.70 728.5 469.70 729.5 469.70 730.5 469.70 731.5 469.70 732.5 469.70 733.5 469.70 734.5 469.70 735.5 469.70 736.5 469.70 737.5 469.70 738.5 469.70 739.5 469.70 740.5 469.70 741.5 469.70 742.5 469.70 743.5 469.70 744.5 469.70 745.5 469.70 746.5 469.70 747.5 469.70 748.5 469.70 749.5 469.70 750.5 469.70 751.5 469.70 752.5 469.70 753.5 469.70 754.5 469.70 755.5 469.70 756.5 469.70 757.5 469.70 758.5 469.70 759.5 469.70 760.5 469.70 761.5 469.70 762.5 469.70 763.5 469.70 764.5 469.70 765.5 469.70 766.5 469.70 767.5 469.70 768.5 469.70 769.5 469.70 770.5 469.70 771.5 469.70 772.5 469.70 773.5 469.70 774.5 469.70 775.5 469.70 776.5 469.70 777.5 469.70 778.5 469.70 779.5 469.70 780.5 469.70 781.5 469.70 782.5 469.70 783.5 469.70 784.5 469.70 785.5 469.70 786.5 469.70 787.5 469.70 788.5 469.70 789.5 469.70 790.5 469.70 791.5 469.70 792.5 469.70 793.5 469.70 794.5 469.70 795.5 469.70 796.5 469.70 797.5 469.70 798.5 469.70 799.5 469.70 800.5 469.70 801.5 469.70 802.5 469.70 803.5 469.70 804.5 469.70 805.5 469.70 806.5 469.70 807.5 469.70 808.5 469.70 809.5 469.70 810.5 469.70 811.5 469.70 812.5 469.70 813.5 469.70 814.5 469.70 815.5 469.70 816.5 469.70 817.5 469.70 818.5 469.70 819.5 469.70 820.5 469.70 821.5 469.70 822.5 469.70 823.5 469.70 824.5 469.70 825.5 469.70 826.5 469.70 827.5 469.70 828.5 469.70 829.5 469.70 830.5 469.70 831.5 469.70 832.5 469.70 833.5 469.70 834.5 469.70 835.5 469.70 836.5 469.70 837.5 469.70 838.5 469.70 839.5 469.70 840.5 469.70 841.5 469.70 842.5 469.70 843.5 469.70 844.5 469.70 845.5 469.70 846.5 469.70 847.5 469.70 848.5 469.70 849.5 469.70 850.5 469.70 851.5 469.70 852.5 469.70 853.5 469.70 854.5 469.70 855.5 469.70 856.5 469.70 857.5 469.70 858.5 469.70 859.5 469.70 860.5 469.70 861.5 469.70 862.5 469.70 863.5 469.70 864.5 469.70 865.5 469.70 866.5 469.70 867.5 469.70 868.5 469.70 869.5 469.70 870.5 469.70 871.5 469.70 872.5 469.70 873.5 469.70 874.5 469.70 875.5 469.70 876.5 469.70 877.5 469.70 878.5 469.70 879.5 469.70 880.5 469.70 881.5 469.70 882.5 469.70 883.5 469.70 884.5 469.70 885.5 469.70 886.5 469.70 887.5 469.70 888.5 469.70 889.5 469.70 890.5 469.70 891.5 469.70 892.5 469.70 893.5 469.70 894.5 469.70 895.5 469.70 896.5 469.70 897.5 469.70 898.5 469.70 899.5 469.70 900.5 469.70 901.5 469.70 902.5 469.70 903.5 469.70 904.5 469.70 905.5 469.70 906.5 469.70 907.5 469.70 908.5 469.70 909.5 469.70 910.5 469.70 911.5 469.70 912.5 469.70 913.5 469.70 914.5 469.70 915.5 469.70 916.5 469.70 917.5 469.70 918.5 469.70 919.5 469.70 920.5 469.70 921.5 469.70 922.5 469.70 923.5 469.70 924.5 469.70 925.5 469.70 926.5 469.70 927.5 469.70 928.5 469.70 929.5 469.70 930.5 469.70 931.5 469.70 932.5 469.70 933.5 469.70 934.5 469.70 935.5 469.70 936.5 469.70 937.5 469.70 938.5 469.70 939.5 469.70 940.5 469.70 941.5 469.70 942.5 469.70 943.5 469.70 944.5 469.70 945.5 469.70 946.5 469.70 947.5 469.70 948.5 469.70 949.5 469.70 950.5 469.70 951.5 469.70 952.5 469.70 953.5 469.70 954.5 469.70 955.5 469.70 956.5 469.70 957.5 469.70 958.5 469.70 959.5 469.70 960.5 469.70 961.5 469.70 962.5 469.70 963.5 469.70 964.5 469.70 965.5 469.70 966.5 469.70 967.5 469.70 968.5 469.70 969.5 469.70 970.5 469.70 971.5 469.70 972.5 469.70 973.5 469.70 974.5 469.70 975.5 469.70 976.5 469.70 977.5 469.70 978.5 469.70 979.5 469.70 980.5 469.70 981.5 469.70 982.5 469.70 983.5 469.70 984.5 469.70 985.5 469.70 986.5 469.70 987.5 469.70 988.5 469.70 989.5 469.70 990.5 469.70 991.5 469.70 992.5 469.70 993.5 469.70 994.5 469.70 995.5 469.70 996.5 469.70 997.5 469.70 998.5 469.70 999.5 469.70 1000.5 469.70 1001.5 469.70 1002.5 469.70 1003.5 469.70 1004.5 469.70 1005.5 469.70 1006.5 469.70 1007.5 469.70 1008.5 469.70 1009.5 469.70 1010.5 469.70 1011.5 469.70 1012.5 469.70 1013.5 469.70 1014.5 469.70 1015.5 469.70 1016.5 469.70 1017.5 469.70 1018.5 469.70 1019.5 469.70 1020.5 469.70 1021.5 469.70 1022.5 469.70 1023.5 469.70 1024.5 469.70 1025.5 469.70 1026.5 469.70 1027.5 469.70 1028.5 469.70 1029.5 469.70 1030.5 469.70 1031.5 469.70 1032.5 469.70 1033.5 469.70 1034.5 469.70 1035.5 469.70 1036.5 469.70 1037.5 469.70 1038.5 469.70 1039.5 469.70 1040.5 469.70 1041.5 469.70 1042.5 469.70 1043.5 469.70 1044.5 469.70 1045.5 469.70 1046.5 469.70 1047.5 469.70 1048.5 469.70 1049.5 469.70 1050.5 469.70 1051.5 469.70 1052.5 469.70 1053.5 469.70 1054.5 469.70 1055.5 469.70 1056.5 469.70 1057.5 469.70 1058.5 469.70 1059.5 469.70 1060.5 469.70 1061.5 469.70 1062.5 469.70 1063.5 469.70 1064.5 469.70 1065.5 469.70 1066.5 469.70 1067.5 469.70 1068.5 469.70 1069.5 469.70 1070.5 469.70 1071.5 469.70 1072.5 469.70 1073.5 469.70 1074.5 469.70 1075.5 469.70 1076.5 469.70 1077.5 469.70 1078.5 469.70 1079.5 469.70 1080.5 469.70 1081.5 469.70 1082.5 469.70 1083.5 469.70 1084.5 469.70 1085.5 469.70 1086.5 469.70 1087.5 469.70 1088.5 469.70 1089.5 469.70 1090.5 469.70 1091.5 469.70 1092.5 469.70 1093.5 469.70 1094.5 469.70 1095.5 469.70 1096.5 469.70 1097.5 469.70 1098.5 469.70 1099.5 469.70 1100.5 469.70 1101.5 469.70 1102.5 469.70 1103.5 469.70 1104.5 469.70 1105.5 469.70 1106.5 469.70 1107.5 469.70 1108.5 469.70 1109.5 469.70 1110.5 469.70 1111.5 469.70 1112.5 469.70 1113.5 469.70 1114.5 469.70 1115.5 469.70 1116.5 469.70 1117.5 469.70 1118.5 469.70 1119.5 469.70 1120.5 469.70 1121.5 469.70 1122.5 469.70 1123.5 469.70 1124.5 469.70 1125.5 469.70 1126.5 469.70 1127.5 469.70 1128.5 469.70 1129.5 469.70 1130.5 469.70 1131.5 469.70 1132.5 469.70 1133.5 469.70 1134.5 469.70 1135.5 469.70 1136.5 469.70 1137.5 469.70 1138.5 469.70 1139.5 469.70 1140.5 469.70 1141.5 469.70 1142.5 469.70 1143.5 469.70 1144.5 469.70 1145.5 469.70 1146.5 469.70 1147.5 469.70 1148.5 469.70 1149.5 469.70 1150.5 469.70 1151.5 469.70 1152.5 469.70 1153.5 469.70 1154.5 469.70 1155.5 469.70 1156.5 469.70 1157.5 469.70 1158.5 469.70 1159.5 469.70 1160.5 469.70 1161.5 469.70 1162.5 469.70 1163.5 469.70 1164.5 469.70 1165.5 469.70 1166.5 469.70 1167.5 469.70 1168.5 469.70 1169.5 469.70 1170.5 469.70 1171.5 469.70 1172.5 469.70 1173.5 469.70 1174.5 469.70 1175.5 469.70 1176.5 469.70 1177.5 469.70 1178.5 469.70 1179.5 469.70 1180.5 469.70 1181.5 469.70 1182.5 469.70 1183.5 469.70 1184.5 469.70 1185.5 469.70 1186.5 469.70 1187.5 469.70 1188.5 469.70 1189.5 469.70 1190.5 469.70 1191.5 469.70 1192.5 469.70 1193.5 469.70 1194.5 469.70 1195.5 469.70 1196.5 469.70 1197.5 469.70 1198.5 469.70 1199.5 469.70 1200.5 469.70 1201.5 469.70 1202.5 469.70 1203.5 469.70 1204.5 469.70 1205.5 469.70 1206.5 469.70 1207.5 469.70 1208.5 469.70 1209.5 469.70 1210.5 469.70 1211.5 469.70 1212.5 469.70 1213.5 469.70 1214.5 469.70 1215.5 469.70 1216.5 469.70 1217.5 469.70 1218.5 469.70 1219.5 469.70 1220.5 469.70 1221.5 469.70 1222.5 469.70 1223.5 469.70 1224.5 469.70 1225.5 469.70 1226.5 469.70 1227.5 469.70 1228.5 469.70 1229.5 469.70 1230.5 469.70 1231.5 469.70 1232.5 469.70 1233.5 469.70 1234.5 469.70 1235.5 469.70 1236.5 469.70 1237.5 469.70 1238.5 469.70 1239.5 469.70 1240.5 469.70 1241.5 469.70 1242.5 469.70 1243.5 469.70 1244.5 469.70 1245.5 469.70 1246.5 469.70 1247.5 469.70 1248.5 469.70 1249.5 469.70 1250.5 469.70 1251.5 469.70 1252.5 469.70 1253.5 469.70 1254.5 469.70 1255.5 469.70 1256.5 469.70 1257.5 469.70 1258.5 469.70 1259.5 469.70 1260.5 469.70 1261.5 469.70 1262.5 469.70 1263.5 469.70 1264.5 469.70 1265.5 469.70 1266.5 469.70 1267.5 469.70 1268.5 469.70 1269.5 469.70 1270.5 469.70 1271.5 469.70 1272.5 469.70 1273.5 469.70 1274.5 469.70 1275.5 469.70 1276.5 469.70 1277.5 469.70 1278.5 469.70 1279.5 469.70 1280.5 469.70 1281.5 469.70 1282.5 469.70 1283.5 469.70 1284.5 469.70 1285.5 469.70 1286.5 469.70 1287.5 469.70 1288.5 469.70 1289.5 469.70 1290.5 469.70 1291.5 469.70 1292.5 469.70 1293.5 469.70 1294.5 469.70 1295.5 469.70 1296.5 469.70 1297.5 469.70 1298.5 469.70 1299.5 469.70 1300.5 469.70 1301.5 469.70 1302.5 469.70 1303.5 469.70 1304.5 469.70 1305.5 469.70 1306.5 469.70 1307.5 469.70 1308.5 469.70 1309.5 469.70 1310.5 469.70" stroke="#00f" stroke-width="3.5"/>
</g>
<path d="M659.1 558.2V85.3" stroke="#f0f" stroke-width="3" fill="none" stroke-dasharray="27 8.1 5.3 8.1 5.3 8.1 5.3 8.1"/>

<text transform="translate(342.51 66.90) scale(0.8971 1)" font-size="50.6">A</text><text transform="translate(372.83 66.90) scale(0.9717 1)" font-size="50.6">G</text><text transform="translate(410.41 66.90) scale(0.8822 1)" font-size="50.6">A</text><text transform="translate(441.36 66.90) scale(0.9502 1)" font-size="50.6">L</text><text transform="translate(544.01 66.90) scale(1.0793 1)" font-size="50.6">.</text><text transform="translate(714.33 66.90) scale(1.1831 1)" font-size="50.6">.</text><text transform="translate(834.11 66.90) scale(0.8971 1)" font-size="50.6">A</text><text transform="translate(864.31 66.90) scale(0.9617 1)" font-size="50.6">P</text><text transform="translate(895.56 66.90) scale(0.9262 1)" font-size="50.6">E</text><text transform="translate(926.83 66.90) scale(0.9382 1)" font-size="50.6">X</text><text transform="translate(971.03 66.90) scale(0.9237 1)" font-size="50.6">C</text><text transform="translate(1003.94 66.90) scale(0.9844 1)" font-size="50.6">O</text><text transform="translate(1054.80 66.90) scale(0.7976 1)" font-size="50.6">(</text><text transform="translate(1150.25 66.90) scale(0.8423 1)" font-size="50.6">)</text>
<text transform="translate(467.32 66.75) scale(0.9384 1)" font-size="48.6">0</text><text transform="translate(493.32 66.75) scale(0.9384 1)" font-size="48.6">0</text><text transform="translate(518.62 66.75) scale(0.9678 1)" font-size="48.6">5</text><text transform="translate(557.69 66.75) scale(0.9711 1)" font-size="48.6">9</text><text transform="translate(583.93 66.75) scale(0.9587 1)" font-size="48.6">6</text><path d="M627.50 33.31V66.75H623.09V43.41H615.00V40.17C618.64 40.17 621.06 36.66 623.09 33.31Z"/><text transform="translate(663.48 66.75) scale(0.9599 1)" font-size="48.6">0</text><text transform="translate(689.48 66.75) scale(0.9599 1)" font-size="48.6">0</text><text transform="translate(728.49 66.75) scale(0.9922 1)" font-size="48.6">4</text><text transform="translate(753.70 66.75) scale(1.0818 1)" font-size="48.6">7</text><text transform="translate(779.22 66.75) scale(1.0773 1)" font-size="48.6">7</text><text transform="translate(1069.29 66.75) scale(1.0253 1)" font-size="48.6">2</text><path d="M1140.40 33.31V66.75H1135.99V43.41H1127.80V40.17C1131.48 40.17 1133.94 36.66 1135.99 33.31Z"/>
<rect x="637.90" y="54.30" width="24.30" height="3.60"/>
<rect x="1097.60" y="54.30" width="24.60" height="3.60"/>
<path d="M158.10 189.07V215.90H154.56V197.17H148.10V194.57C151.01 194.57 152.94 191.75 154.56 189.07Z"/><text transform="translate(165.51 215.90) scale(0.9762 1)" font-size="39">0</text>
<text transform="translate(164.40 348.40) scale(1.0221 1)" font-size="39">5</text>
<text transform="translate(165.10 481.80) scale(0.9816 1)" font-size="39">0</text>
<rect x="249.00" y="594.00" width="19.00" height="3.70"/>
<path d="M282.90 577.77V604.60H279.36V585.87H273.00V583.27C275.86 583.27 277.77 580.45 279.36 577.77Z"/><text transform="translate(290.12 604.60) scale(0.9709 1)" font-size="39">0</text>
<text transform="translate(453.86 604.60) scale(1.0138 1)" font-size="39">0</text>
<path d="M643.40 577.77V604.60H639.86V585.87H633.60V583.27C636.42 583.27 638.29 580.45 639.86 577.77Z"/><text transform="translate(650.80 604.60) scale(0.9816 1)" font-size="39">0</text>
<text transform="translate(813.84 604.60) scale(1.1032 1)" font-size="39">2</text><text transform="translate(836.10 604.60) scale(0.9816 1)" font-size="39">0</text>
<text transform="translate(1000.22 604.60) scale(1.0654 1)" font-size="39">3</text><text transform="translate(1021.90 604.60) scale(0.9816 1)" font-size="39">0</text>
<text transform="translate(1186.94 604.60) scale(0.9617 1)" font-size="39">4</text><text transform="translate(1207.85 604.60) scale(0.9494 1)" font-size="39">0</text>
<text transform="translate(648.24 645.90) scale(0.8810 1)" font-size="40.7">V</text>
<text transform="translate(672.13 653.90) scale(1.0234 1)" font-size="24.6">L</text><text transform="translate(685.98 653.90) scale(1.0027 1)" font-size="24.6">S</text><text transform="translate(701.64 653.90) scale(0.9722 1)" font-size="24.6">R</text>
<text transform="translate(729.12 645.90) scale(0.8719 1)" font-size="38.5">(</text><text transform="translate(739.48 645.90) scale(1.0471 1)" font-size="38.5">k</text><text transform="translate(759.85 645.90) scale(0.9564 1)" font-size="38.5">m</text><text transform="translate(801.35 645.90) scale(0.9829 1)" font-size="38.5">s</text><text transform="translate(848.02 645.90) scale(0.7837 1)" font-size="38.5">)</text>
<rect x="821.10" y="621.90" width="12.00" height="2.00"/>
<path d="M842.40 611.11V628.10H840.16V616.24H835.80V614.59C837.76 614.59 839.07 612.81 840.16 611.11Z"/>
<g transform="rotate(-90)"><text transform="translate(-371.15 115.30) scale(0.9489 1)" font-size="39.7">T</text><text transform="translate(-348.03 94.70) scale(1.0352 1)" font-size="20">*</text><text transform="translate(-348.75 124.70) scale(0.9359 1)" font-size="25.3">A</text><text transform="translate(-321.93 115.70) scale(0.8590 1)" font-size="38.2">(</text><text transform="translate(-310.07 115.50) scale(0.9674 1)" font-size="40">K</text><text transform="translate(-283.49 115.70) scale(0.8590 1)" font-size="38.2">)</text></g>
</svg>
</body></html>
